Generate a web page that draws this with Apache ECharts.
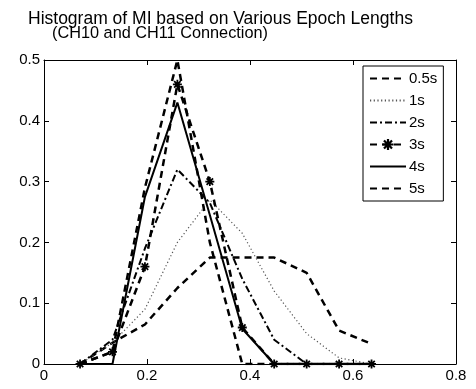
<!DOCTYPE html>
<html>
<head>
<meta charset="utf-8">
<script src="https://cdn.jsdelivr.net/npm/echarts@6/dist/echarts.min.js"></script>
<style>
  html, body { margin: 0; padding: 0; background: #fff; }
  #chart { width: 476px; height: 389px; }
</style>
</head>
<body>
<div id="chart"></div>
<script>
// bin centres (MI value) shared by all epoch lengths
const binCenters = [0.07, 0.133, 0.196, 0.259, 0.322, 0.385, 0.447, 0.51, 0.573, 0.636]

const epoch05 = [0, 0.035, 0.065, 0.125, 0.175, 0.175, 0.175, 0.15, 0.055, 0.033]
const epoch1 = [0, 0.035, 0.09, 0.2, 0.27, 0.215, 0.12, 0.05, 0.01, 0]
const epoch2 = [0, 0.04, 0.19, 0.32, 0.265, 0.14, 0.04, 0, 0, 0]
const epoch3 = [0, 0.02, 0.16, 0.46, 0.30, 0.06, 0, 0, 0, 0]
const epoch4 = [0, 0, 0.275, 0.43, 0.245, 0.058, 0, 0, 0, 0]
const epoch5 = [0, 0.02, 0.29, 0.5, 0.2, 0, 0, 0, 0, 0]

const seriesNames = ['0.5s', '1s', '2s', '3s', '4s', '5s']
const xTicks = [0, 0.2, 0.4, 0.6, 0.8]
const yTicks = [0, 0.1, 0.2, 0.3, 0.4, 0.5]

const font = 'Liberation Sans, Arial, sans-serif'
// MATLAB-like '*' marker
const asterisk = 'path://M-1,-5L1,-5L1,5L-1,5Z M-5,-1L5,-1L5,1L-5,1Z M-4.3,-2.9L-2.9,-4.3L4.3,2.9L2.9,4.3Z M2.9,-4.3L4.3,-2.9L-2.9,4.3L-4.3,2.9Z'

const pairs = ys => binCenters.map((x, i) => [x, ys[i]])

const chart = echarts.init(document.getElementById('chart'))

const axisCommon = {
  type: 'value',
  axisLine: { show: true, onZero: false, lineStyle: { color: '#000', width: 1 } },
  axisTick: { show: true, inside: true, length: 5, lineStyle: { color: '#000' } },
  splitLine: { show: false }
}

const lineSeries = (name, ys, style, extra) => Object.assign({
  name: name,
  type: 'line',
  data: pairs(ys),
  symbol: 'none',
  lineStyle: Object.assign({ color: '#000' }, style),
  itemStyle: { color: '#000' },
  animation: false,
  z: 3
}, extra || {})

const option = {
  animation: false,
  title: [
    { text: 'Histogram of MI based on Various Epoch Lengths', left: 23, top: 5, padding: 5,
      textStyle: { fontFamily: font, fontSize: 17.5, fontWeight: 'normal', color: '#000' } },
    { text: '(CH10 and CH11 Connection)', left: 47, top: 21, padding: 5,
      textStyle: { fontFamily: font, fontSize: 16.3, fontWeight: 'normal', color: '#000' } }
  ],
  grid: { left: 44, right: 20, top: 60, bottom: 25 },
  legend: {
    orient: 'vertical',
    left: 363,
    top: 66,
    width: 87,
    padding: [5, 6, 5, 6],
    itemWidth: 36,
    itemHeight: 14,
    itemGap: 7,
    borderColor: '#000',
    borderWidth: 1,
    backgroundColor: '#fff',
    textStyle: { fontFamily: font, fontSize: 15, color: '#000', padding: [0, 0, 0, -2] },
    data: seriesNames.map(n => n === '3s' ? { name: n } : { name: n, itemStyle: { opacity: 0 } })
  },
  xAxis: [
    Object.assign({}, axisCommon, {
      min: 0, max: 0.8, interval: 0.2, position: 'bottom',
      axisLabel: { fontFamily: font, fontSize: 15, color: '#000', margin: 4,
        formatter: v => xTicks.indexOf(Math.round(v * 10) / 10) >= 0 ? String(Math.round(v * 10) / 10) : '' }
    }),
    Object.assign({}, axisCommon, {
      min: 0, max: 0.8, interval: 0.2, position: 'top', axisLabel: { show: false }
    })
  ],
  yAxis: [
    Object.assign({}, axisCommon, {
      min: 0, max: 0.5, interval: 0.1, position: 'left',
      axisLabel: { fontFamily: font, fontSize: 15, color: '#000', margin: 4,
        formatter: v => yTicks.indexOf(Math.round(v * 10) / 10) >= 0 ? String(Math.round(v * 10) / 10) : '' }
    }),
    Object.assign({}, axisCommon, {
      min: 0, max: 0.5, interval: 0.1, position: 'right', axisLabel: { show: false }
    })
  ],
  series: [
    lineSeries('0.5s', epoch05, { width: 2.5, type: [7, 5] }),
    lineSeries('1s', epoch1, { width: 1.2, type: [1.2, 2.5], color: '#555' }, { itemStyle: { color: '#555' } }),
    lineSeries('2s', epoch2, { width: 2, type: [7, 3, 2, 3] }),
    lineSeries('3s', epoch3, { width: 2.5, type: [7, 5] }, { symbol: asterisk, symbolSize: 9, showSymbol: true }),
    lineSeries('4s', epoch4, { width: 2, type: 'solid' }),
    lineSeries('5s', epoch5, { width: 2.5, type: [7, 5] })
  ]
}

chart.setOption(option)
</script>
</body>
</html>
